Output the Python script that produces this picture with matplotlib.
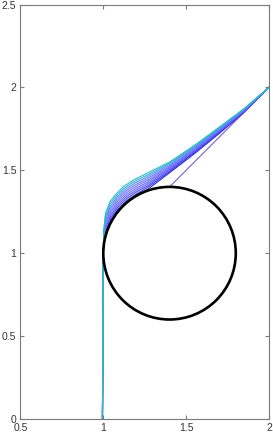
import matplotlib
matplotlib.use("Agg")
import matplotlib.pyplot as plt
from matplotlib.patches import Circle

# obstacle
circle_center = (1.4, 1.0)
circle_radius = 0.4

# trajectories, innermost (hugging the circle) to outermost
path_0 = [(0.995, 0.0), (1.0, 1.0), (1.005, 1.06), (1.02, 1.12), (1.047, 1.185), (1.087, 1.25), (1.148, 1.31),
          (1.208, 1.35), (1.268, 1.385), (1.40, 1.485), (1.55, 1.60), (1.70, 1.722), (1.85, 1.85), (2.0, 2.0)]
path_1 = [(0.995, 0.0), (1.0, 1.0), (1.005, 1.069), (1.019, 1.133), (1.046, 1.199), (1.086, 1.262), (1.145, 1.32),
          (1.205, 1.36), (1.267, 1.396), (1.40, 1.492), (1.55, 1.606), (1.70, 1.726), (1.85, 1.852), (2.0, 2.0)]
path_2 = [(0.995, 0.0), (1.0, 1.0), (1.005, 1.078), (1.018, 1.147), (1.045, 1.213), (1.085, 1.274), (1.142, 1.33),
          (1.202, 1.37), (1.266, 1.406), (1.40, 1.499), (1.55, 1.611), (1.70, 1.730), (1.85, 1.855), (2.0, 2.0)]
path_3 = [(0.995, 0.0), (1.0, 1.0), (1.004, 1.087), (1.018, 1.16), (1.045, 1.227), (1.085, 1.287), (1.139, 1.34),
          (1.199, 1.38), (1.265, 1.417), (1.40, 1.507), (1.55, 1.617), (1.70, 1.735), (1.85, 1.857), (2.0, 2.0)]
path_4 = [(0.995, 0.0), (1.0, 1.0), (1.004, 1.096), (1.017, 1.173), (1.044, 1.241), (1.084, 1.299), (1.136, 1.35),
          (1.196, 1.39), (1.264, 1.427), (1.40, 1.514), (1.55, 1.622), (1.70, 1.739), (1.85, 1.860), (2.0, 2.0)]
path_5 = [(0.995, 0.0), (1.0, 1.0), (1.004, 1.104), (1.016, 1.187), (1.043, 1.254), (1.083, 1.311), (1.132, 1.36),
          (1.192, 1.40), (1.264, 1.438), (1.40, 1.521), (1.55, 1.628), (1.70, 1.743), (1.85, 1.862), (2.0, 2.0)]
path_6 = [(0.995, 0.0), (1.0, 1.0), (1.004, 1.113), (1.015, 1.20), (1.042, 1.268), (1.082, 1.323), (1.129, 1.37),
          (1.189, 1.41), (1.263, 1.448), (1.40, 1.528), (1.55, 1.633), (1.70, 1.747), (1.85, 1.865), (2.0, 2.0)]
path_7 = [(0.995, 0.0), (1.0, 1.0), (1.003, 1.122), (1.015, 1.213), (1.042, 1.282), (1.082, 1.336), (1.126, 1.38),
          (1.186, 1.42), (1.262, 1.459), (1.40, 1.536), (1.55, 1.639), (1.70, 1.752), (1.85, 1.867), (2.0, 2.0)]
path_8 = [(0.995, 0.0), (1.0, 1.0), (1.003, 1.131), (1.014, 1.227), (1.041, 1.296), (1.081, 1.348), (1.123, 1.39),
          (1.183, 1.43), (1.261, 1.469), (1.40, 1.543), (1.55, 1.644), (1.70, 1.756), (1.85, 1.870), (2.0, 2.0)]
path_9 = [(0.995, 0.0), (1.0, 1.0), (1.003, 1.14), (1.013, 1.24), (1.04, 1.31), (1.08, 1.36), (1.12, 1.40),
          (1.18, 1.44), (1.26, 1.48), (1.40, 1.55), (1.55, 1.65), (1.70, 1.76), (1.85, 1.872), (2.0, 2.0)]
# trajectory that slides over the top of the circle
path_top = [(1.4, 1.4), (2.0, 2.0)]

paths = [path_0, path_1, path_2, path_3, path_4, path_5, path_6, path_7, path_8, path_9]
path_colors = ['#3030c8', '#3a3ae0', '#4848f0', '#5858ff', '#6868ff',
               '#7070ff', '#6a7cf8', '#5a90f0', '#40a8e0', '#20c0c0']

x_ticks = [0.5, 1, 1.5, 2]
x_tick_labels = ['0.5', '1', '1.5', '2']
y_ticks = [0, 0.5, 1, 1.5, 2, 2.5]
y_tick_labels = ['0', '0.5', '1', '1.5', '2', '2.5']

plt.rcParams['font.family'] = ['Liberation Sans', 'DejaVu Sans']

fig = plt.figure(figsize=(2.73, 4.34), dpi=100)
ax = fig.add_axes([0.075, 0.0346, 0.91, 0.955])

ax.plot([p[0] for p in path_top], [p[1] for p in path_top], color='#7860d0', lw=0.8)
for path, col in zip(paths, path_colors):
    ax.plot([p[0] for p in path], [p[1] for p in path], color=col, lw=0.8)

ax.add_patch(Circle(circle_center, circle_radius, fill=False, edgecolor='black', lw=1.9, zorder=5))

ax.set_xlim(0.5, 2)
ax.set_ylim(0, 2.5)
ax.set_xticks(x_ticks)
ax.set_xticklabels(x_tick_labels)
ax.set_yticks(y_ticks)
ax.set_yticklabels(y_tick_labels)

for s in ax.spines.values():
    s.set_color('#7a7a7a')
    s.set_linewidth(0.8)
ax.tick_params(direction='in', top=True, right=True, length=3, width=0.8, color='#7a7a7a',
               labelsize=7.5, labelcolor='#333333', pad=3)

fig.savefig('out.png', dpi=100)
